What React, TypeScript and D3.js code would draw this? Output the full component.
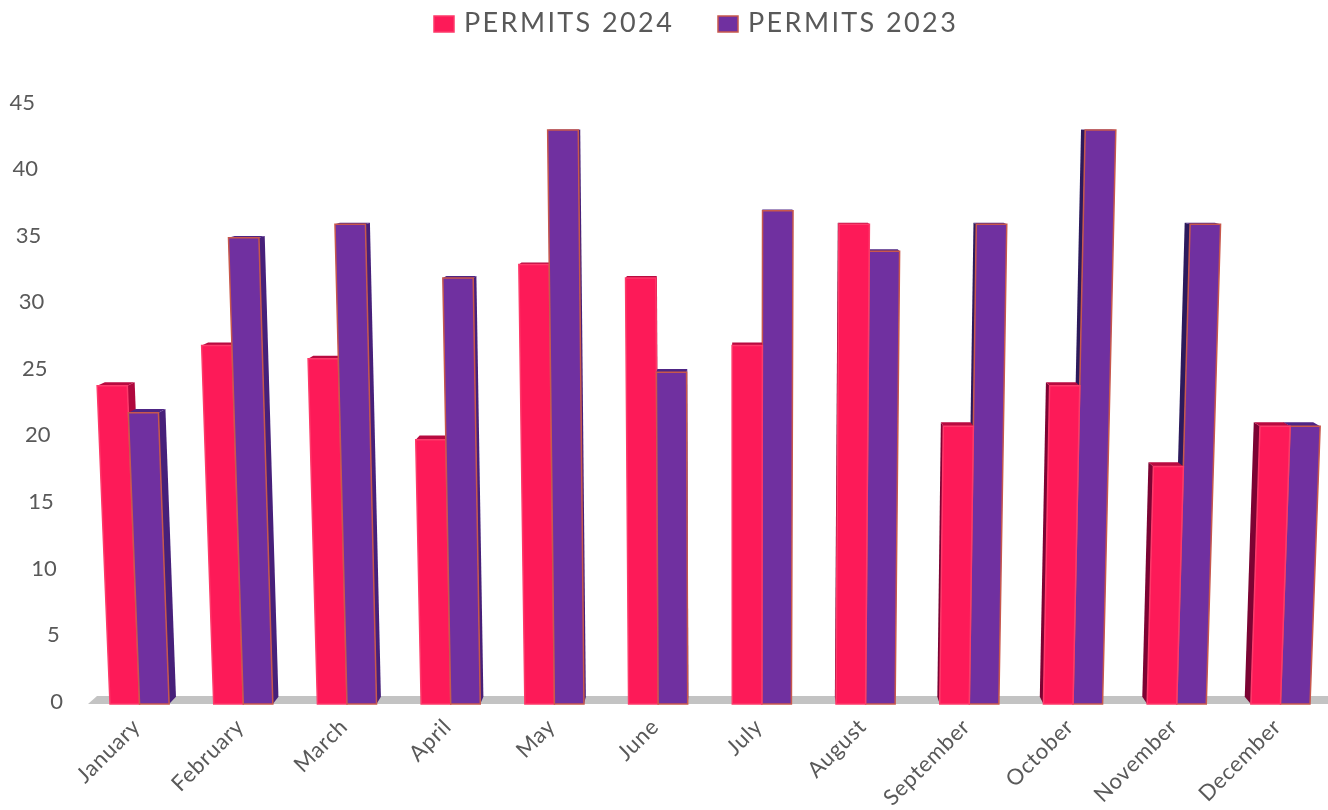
import React, { useEffect, useRef } from 'react';
import * as d3 from 'd3';

const months = ['January', 'February', 'March', 'April', 'May', 'June', 'July', 'August', 'September', 'October', 'November', 'December'];
const permits2024 = [24, 27, 26, 20, 33, 32, 27, 36, 21, 24, 18, 21];
const permits2023 = [22, 35, 36, 32, 43, 25, 37, 34, 36, 43, 36, 21];
const yTicks = [0, 5, 10, 15, 20, 25, 30, 35, 40, 45];
const seriesNames = ['PERMITS 2024', 'PERMITS 2023'];

const WIDTH = 1328;
const HEIGHT = 810;
const FONT = 'Lato, "Noto Sans", sans-serif';

// fake 3D: everything leans towards one vanishing point
const VANISH_X = 740;
const VANISH_Y = 100;
const LEAN = 0.00085;
const DEPTH = 0.012;
const BASE_Y = 704;

const styles = [
  { front: '#fd1a58', sideRight: '#b0083e', sideLeft: '#7c0333', top: '#b80a40', stroke: '#fd3a6a' },
  { front: '#7030a0', sideRight: '#47207a', sideLeft: '#2c1a5c', top: '#4e2585', stroke: '#c8584c' },
];

const App: React.FC = () => {
  const svgRef = useRef<SVGSVGElement>(null);

  useEffect(() => {
    if (!svgRef.current) return;
    const svg = d3.select(svgRef.current);
    svg.selectAll('*').remove();

    const x = d3.scaleBand<string>().domain(months).range([110, 1310]).paddingInner(0.43).paddingOuter(0);
    const y = d3.scaleLinear().domain([0, 45]).range([709, 103]);
    const tickY = d3.scaleLinear().domain([0, 45]).range([701, 102]);
    const tickX = d3.scaleLinear().domain([0, 45]).range([63, 35]);

    const front = (px: number, v: number): [number, number] => [
      px + (px - VANISH_X) * LEAN * v,
      Math.min(y(v), BASE_Y),
    ];
    const back = (p: [number, number]): [number, number] => [
      p[0] + (VANISH_X - p[0]) * DEPTH,
      p[1] + (VANISH_Y - p[1]) * DEPTH,
    ];
    const poly = (pts: [number, number][]) => pts.map(p => p.join(',')).join(' ');

    // floor
    const floorFrontLeft = 88;
    svg.append('polygon')
      .attr('points', poly([[floorFrontLeft, BASE_Y], [floorFrontLeft + 9, BASE_Y - 8], [WIDTH, BASE_Y - 8], [WIDTH, BASE_Y]]))
      .attr('fill', '#c3c3c3');

    // y labels follow the lean of the wall
    svg.append('g').selectAll('text')
      .data(yTicks)
      .join('text')
      .attr('x', d => tickX(d))
      .attr('y', d => tickY(d))
      .attr('dy', '0.35em')
      .attr('text-anchor', 'end')
      .attr('font-family', FONT)
      .attr('font-size', 22)
      .attr('fill', '#595959')
      .text(d => d);

    // bars
    const barW = x.bandwidth() / 2;
    const drawBar = (g: d3.Selection<SVGGElement, unknown, null, undefined>, left: number, v: number, s: typeof styles[0]) => {
      const right = left + barW;
      const fl0 = front(left, 0), fr0 = front(right, 0), fl = front(left, v), fr = front(right, v);
      const isLeftOfCentre = (left + right) / 2 < VANISH_X;
      const sideA = isLeftOfCentre ? fr0 : fl0;
      const sideB = isLeftOfCentre ? fr : fl;
      g.append('polygon')
        .attr('points', poly([sideA, sideB, back(sideB), back(sideA)]))
        .attr('fill', isLeftOfCentre ? s.sideRight : s.sideLeft);
      g.append('polygon')
        .attr('points', poly([fl, fr, back(fr), back(fl)]))
        .attr('fill', s.top);
      g.append('polygon')
        .attr('points', poly([fl0, fl, fr, fr0]))
        .attr('fill', s.front)
        .attr('stroke', s.stroke)
        .attr('stroke-width', 1.5);
    };

    months.forEach((m, i) => {
      const g = svg.append('g');
      const left = x(m) as number;
      const pink = () => drawBar(g, left, permits2024[i], styles[0]);
      const purple = () => drawBar(g, left + barW, permits2023[i], styles[1]);
      if (left + barW < VANISH_X) { pink(); purple(); } else { purple(); pink(); }
    });

    // month labels
    svg.append('g').selectAll('text')
      .data(months)
      .join('text')
      .attr('transform', d => `translate(${(x(d) as number) + barW + 2},${728}) rotate(-45)`)
      .attr('text-anchor', 'end')
      .attr('font-family', FONT)
      .attr('font-size', 22)
      .attr('letter-spacing', 0.7)
      .attr('fill', '#595959')
      .text(d => d);

    // legend
    const legendX = [434, 718];
    const legend = svg.append('g').selectAll('g')
      .data(seriesNames)
      .join('g')
      .attr('transform', (_, i) => `translate(${legendX[i]},16)`);
    legend.append('rect')
      .attr('width', 20)
      .attr('height', 16)
      .attr('fill', (_, i) => styles[i].front)
      .attr('stroke', (_, i) => styles[i].stroke)
      .attr('stroke-width', 1.5);
    legend.append('text')
      .attr('x', 30)
      .attr('y', 16)
      .attr('font-family', FONT)
      .attr('font-size', 27)
      .attr('letter-spacing', 2.4)
      .attr('fill', '#595959')
      .text(d => d);
  }, []);

  return (
    <svg
      ref={svgRef}
      width={WIDTH}
      height={HEIGHT}
      style={{ position: 'absolute', left: 0, top: 0, display: 'block', background: '#fff', filter: 'blur(0.6px)' }}
    />
  );
};

export default App;
